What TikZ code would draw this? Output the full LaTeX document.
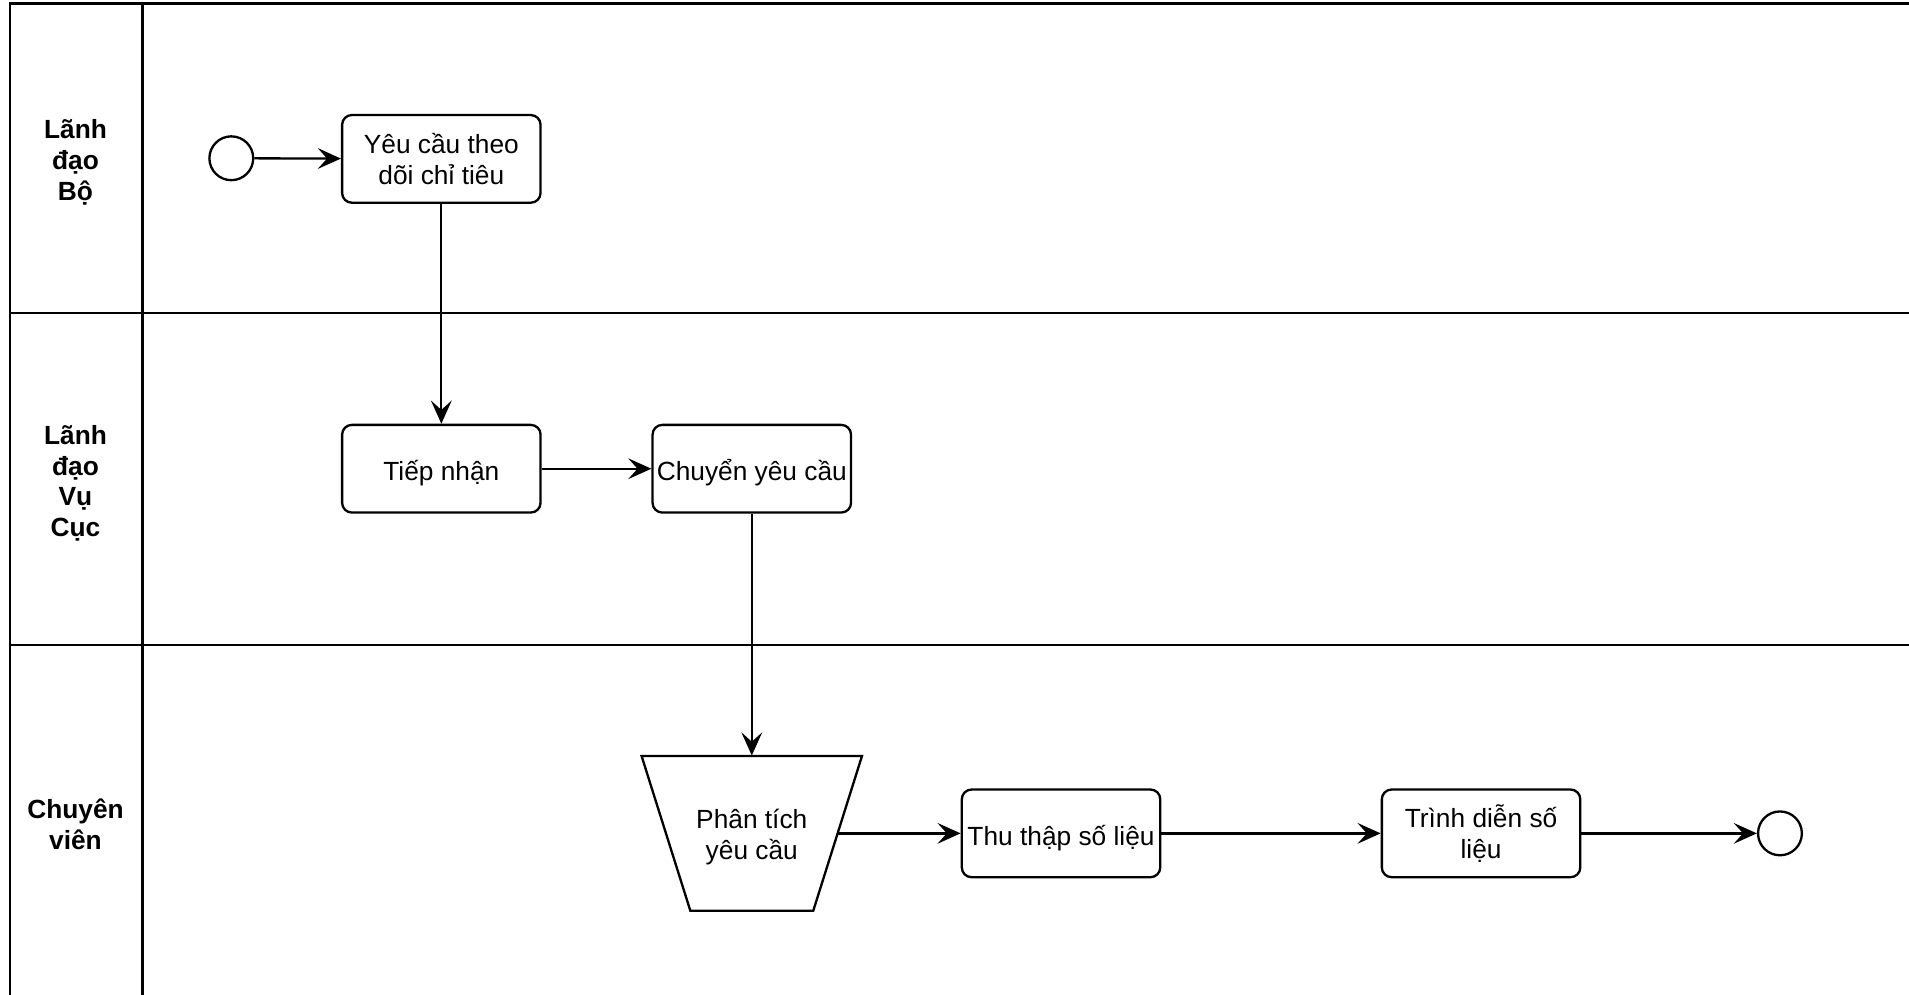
\documentclass[tikz,border=0pt]{standalone}
\usepackage{fontspec}
\setmainfont{Liberation Sans}
\usetikzlibrary{arrows.meta}
\begin{document}
\begin{tikzpicture}[x=0.5pt,y=-0.5pt,
  lane/.style={line width=1pt},
  task/.style={draw, line width=0.95pt, rounded corners=4pt, minimum width=81.5pt, minimum height=36pt, align=center, font=\fontsize{10.8}{12.7}\selectfont, inner sep=1pt, fill=white},
  oneline/.style={text height=11.5pt, text depth=1.5pt},
  event/.style={draw, circle, line width=0.95pt, minimum size=18pt, inner sep=0pt, fill=white},
  lanelabel/.style={font=\bfseries\fontsize{10.8}{12.7}\selectfont, align=center},
  holder/.style={minimum width=90.5pt, minimum height=63.5pt, inner sep=0pt, align=center, font=\fontsize{10.8}{12.7}\selectfont},
  flow/.style={line width=0.95pt, -{Stealth[length=9.5pt,width=8.5pt,inset=3.8pt]}}]
\useasboundingbox (0,0) rectangle (1568,817);
% pool and lanes
\draw[lane] (8,817) -- (8,3) -- (1568,3);
\draw[lane] (117,3) -- (117,817);
\draw[lane] (8,257) -- (1568,257);
\draw[lane] (8,530) -- (1568,530);
\node[lanelabel] (l1) at (62,133) {Lãnh\\đạo\\Bộ};
\node[lanelabel] (l2) at (62,397) {Lãnh\\đạo\\Vụ\\Cục};
\node[lanelabel] (l3) at (62,677) {Chuyên\\viên};
% nodes
\node[event] (start) at (190,130) {};
\node[task] (b1) at (362.5,130.5) {Yêu cầu theo\\dõi chỉ tiêu};
\node[task, oneline] (tn) at (362.5,385) {Tiếp nhận};
\node[task, oneline] (cy) at (617.5,385) {Chuyển yêu cầu};
\draw[line width=0.95pt, fill=white] (527,621) -- (708,621) -- (668,748) -- (567,748) -- cycle;
\node[holder] (pt) at (617.5,684.5) {};
\node[font=\fontsize{10.8}{12.7}\selectfont, align=center] (ptt) at (617.5,687.5) {Phân tích\\yêu cầu};
\coordinate (ptr) at (688,684.5);
\node[task, oneline] (tt) at (871.5,684.5) {Thu thập số liệu};
\node[task] (td) at (1216.5,684.5) {Trình diễn số\\liệu};
\node[event] (end) at (1462,684.5) {};
% flows
\draw[flow] (start) -- (b1);
\draw[flow] (b1) -- (tn);
\draw[flow] (tn) -- (cy);
\draw[flow] (cy) -- (pt.north);
\draw[flow] (ptr) -- (tt);
\draw[flow] (tt) -- (td);
\draw[flow] (td) -- (end);
\end{tikzpicture}
\end{document}
